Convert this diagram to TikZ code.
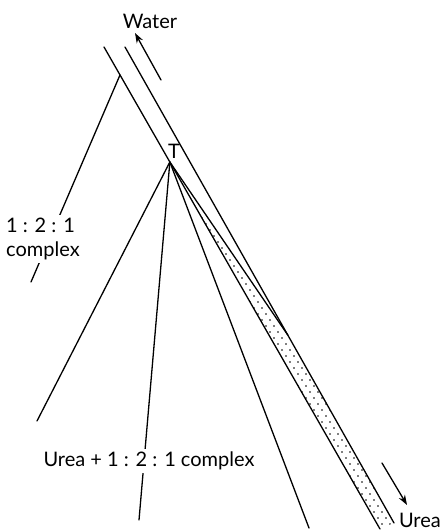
\documentclass[tikz,border=0pt]{standalone}
\usepackage{fontspec}
\setmainfont{Lato}
\usetikzlibrary{arrows.meta,calc}
\begin{document}
\begin{tikzpicture}[x=1pt,y=-1pt,
  ln/.style={line width=1.3pt, line cap=round},
  lbl/.style={font=\fontsize{20}{24}\selectfont, inner sep=0pt},
  gaplbl/.style={lbl, fill=white, inner sep=3pt},
  arr/.style={ln, -{Stealth[length=10pt,width=7pt]}}]
\useasboundingbox (0,0) rectangle (446,532);
% main lines
\coordinate (A1) at (104,47);
\coordinate (A2) at (380,529);
\coordinate (B1) at (125,47);
\coordinate (B2) at (394,523);
\coordinate (T) at ($(A1)!0.2386!(A2)$);
\coordinate (C) at ($(B1)!0.605!(B2)$);
\coordinate (K) at ($(A1)!0.058!(A2)$);
\coordinate (K2) at (31,282);
\coordinate (F1) at (37,421);
\coordinate (F2) at (139,520);
\coordinate (F3) at (309,528);
% dotted band
\begin{scope}
  \clip (T) -- (C) -- (B2) -- (A2) -- cycle;
  \foreach \i in {0,...,36}{
    \foreach \j in {0,...,70}{
      \fill ({150+\i*8+mod(\j,2)*4},{140+\j*6}) circle (0.9pt);
    }
  }
\end{scope}
\draw[ln] (A1) -- (A2);
\draw[ln] (B1) -- (B2);
\draw[ln] (T) -- (C);
\draw[ln] (T) -- (F1);
\draw[ln] (T) -- (F3);
\draw[ln] (T) -- (F2);
\draw[ln] (K) -- (K2);
% labels
\node[gaplbl] (mix) at (149,461) {Urea + 1 : 2 : 1 complex};
\node[gaplbl, align=left, anchor=west] (cx) at (3,239) {1 : 2 : 1\\complex};
\node[lbl] (water) at (150,21) {Water};
\node[lbl, anchor=base east] (urea) at (441,527) {Urea};
\node[lbl] (tl) at (174,151) {T};
% arrows
\coordinate (W1) at (161,80);
\coordinate (W2) at (135,33);
\coordinate (U1) at (382,463);
\coordinate (U2) at (407,505);
\draw[arr] (W1) -- (W2);
\draw[arr] (U1) -- (U2);
\end{tikzpicture}
\end{document}
